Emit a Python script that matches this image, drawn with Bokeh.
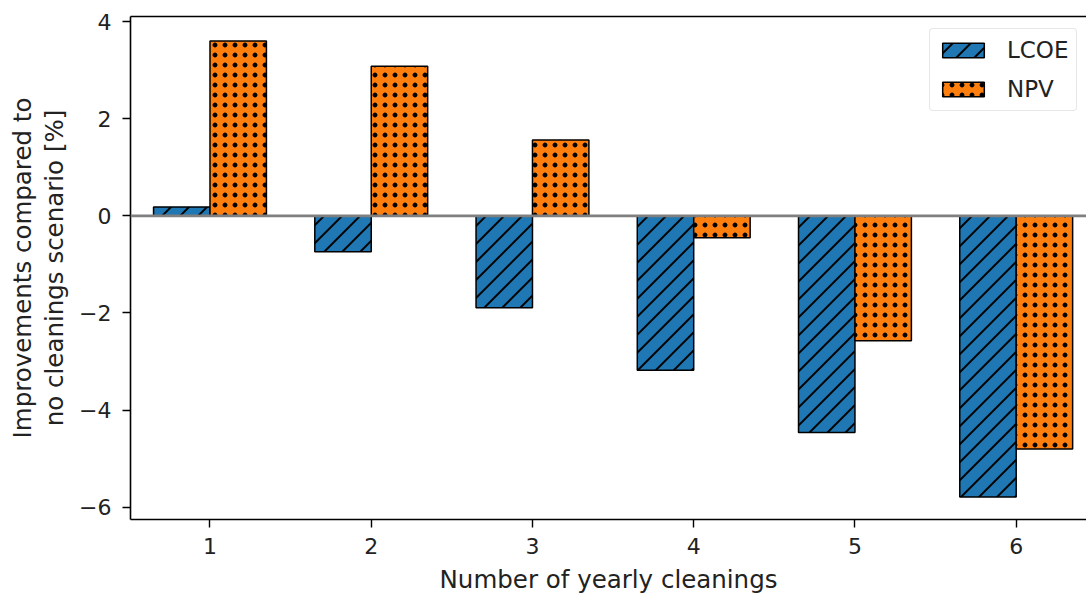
import zlib, struct, base64, math
from bokeh.plotting import figure
from bokeh.models import (ColumnDataSource, Range1d, FixedTicker, LinearAxis, Span,
                          Legend, LegendItem, ImageURLTexture)
from bokeh.core.properties import value
from bokeh.transform import dodge
from bokeh.embed import file_html
from bokeh.resources import INLINE

# ---- data ----
cleanings = [1, 2, 3, 4, 5, 6]
lcoe = [0.18, -0.74, -1.89, -3.18, -4.46, -5.79]
npv = [3.60, 3.08, 1.56, -0.45, -2.57, -4.80]
y_ticks = [-6, -4, -2, 0, 2, 4]
x_ticks = [1, 2, 3, 4, 5, 6]

FONT = "DejaVu Sans"


# ---- hatch tiles (small PNGs, transparent with black marks) ----
def _png(size, alpha_fn):
    rows = []
    for y in range(size):
        row = bytearray([0])
        for x in range(size):
            a = max(0.0, min(1.0, alpha_fn(x + 0.5, y + 0.5)))
            row += bytes([0, 0, 0, int(round(a * 255))])
        rows.append(bytes(row))
    raw = b"".join(rows)

    def chunk(t, d):
        c = struct.pack(">I", len(d)) + t + d
        return c + struct.pack(">I", zlib.crc32(t + d) & 0xFFFFFFFF)

    data = (b"\x89PNG\r\n\x1a\n"
            + chunk(b"IHDR", struct.pack(">IIBBBBB", size, size, 8, 6, 0, 0, 0))
            + chunk(b"IDAT", zlib.compress(raw))
            + chunk(b"IEND", b""))
    return "data:image/png;base64," + base64.b64encode(data).decode()


def _diag_alpha(s, w):
    def f(x, y):
        d = (x + y) % s
        dist = min(d, s - d) / math.sqrt(2)
        return w / 2 + 0.5 - dist
    return f


def _dot_alpha(s, r):
    def f(x, y):
        dist = math.hypot(x - s / 2, y - s / 2)
        return r + 0.5 - dist
    return f


diag_tex = ImageURLTexture(url=_png(18, _diag_alpha(18, 2.0)), repetition="repeat")
dot_tex = ImageURLTexture(url=_png(10, _dot_alpha(10, 2.4)), repetition="repeat")

src = ColumnDataSource(dict(x=cleanings, lcoe=lcoe, npv=npv))

p = figure(width=1086, height=596, output_backend="svg", toolbar_location=None,
           x_range=Range1d(0.507, 6.436), y_range=Range1d(-6.252, 4.105),
           min_border_left=130, min_border_right=0, min_border_top=16, min_border_bottom=75,
           background_fill_color="white", border_fill_color="white")
p.outline_line_color = None
p.xgrid.visible = False
p.ygrid.visible = False

bw = 0.35
r1 = p.vbar(x=dodge("x", -bw / 2, range=p.x_range), top="lcoe", bottom=0, width=bw, source=src,
            fill_color="#1f77b4", line_color="black", line_width=1.5,
            hatch_pattern=value("diag"), hatch_extra={"diag": diag_tex})
r2 = p.vbar(x=dodge("x", bw / 2, range=p.x_range), top="npv", bottom=0, width=bw, source=src,
            fill_color="#ff7f0e", line_color="black", line_width=1.5,
            hatch_pattern=value("dots"), hatch_extra={"dots": dot_tex})

p.add_layout(Span(location=0, dimension="width", line_color="#808080", line_width=2.7))

# axes
for ax in (p.xaxis[0], p.yaxis[0]):
    ax.axis_line_width = 1.6
    ax.axis_line_color = "black"
    ax.major_tick_line_width = 1.4
    ax.major_tick_line_color = "black"
    ax.major_tick_out = 8
    ax.major_tick_in = 0
    ax.minor_tick_line_color = None
    ax.major_label_text_font = FONT
    ax.major_label_text_font_size = "22px"
    ax.major_label_text_color = "#222222"
    ax.axis_label_text_font = FONT
    ax.axis_label_text_font_size = "24.5px"
    ax.axis_label_text_font_style = "normal"
    ax.axis_label_text_color = "#222222"
    ax.axis_label_text_line_height = 1.1

p.xaxis.ticker = FixedTicker(ticks=x_ticks)
p.yaxis.ticker = FixedTicker(ticks=y_ticks)
p.yaxis.major_label_overrides = {float(t): (str(t).replace("-", "\u2212")) for t in y_ticks}
p.xaxis.axis_label = "Number of yearly cleanings"
p.yaxis.axis_label = "Improvements compared to\nno cleanings scenario [%]"
p.xaxis.major_label_standoff = 10
p.yaxis.major_label_standoff = 11
p.xaxis.axis_label_standoff = 8
p.yaxis.axis_label_standoff = 7

top = LinearAxis(ticker=FixedTicker(ticks=[]), axis_line_width=1.6, axis_line_color="black",
                 major_label_text_font_size="0px", major_tick_line_color=None,
                 minor_tick_line_color=None, major_label_standoff=0, axis_label_standoff=0)
p.add_layout(top, "above")

legend = Legend(items=[LegendItem(label="LCOE", renderers=[r1]),
                       LegendItem(label="NPV", renderers=[r2])],
                location=(799, 408))
legend.glyph_width = 52
legend.glyph_height = 18
legend.label_height = 28
legend.spacing = 11
legend.padding = 7
legend.label_standoff = 18
legend.label_text_font = FONT
legend.label_text_font_size = "23px"
legend.label_text_color = "#222222"
legend.border_line_color = "#d0d0d0"
legend.border_line_width = 1.2
legend.background_fill_alpha = 0.8
legend.margin = 0
try:
    legend.border_radius = 4
except Exception:
    pass
p.add_layout(legend)

open("out.html", "w").write(file_html(p, INLINE))
